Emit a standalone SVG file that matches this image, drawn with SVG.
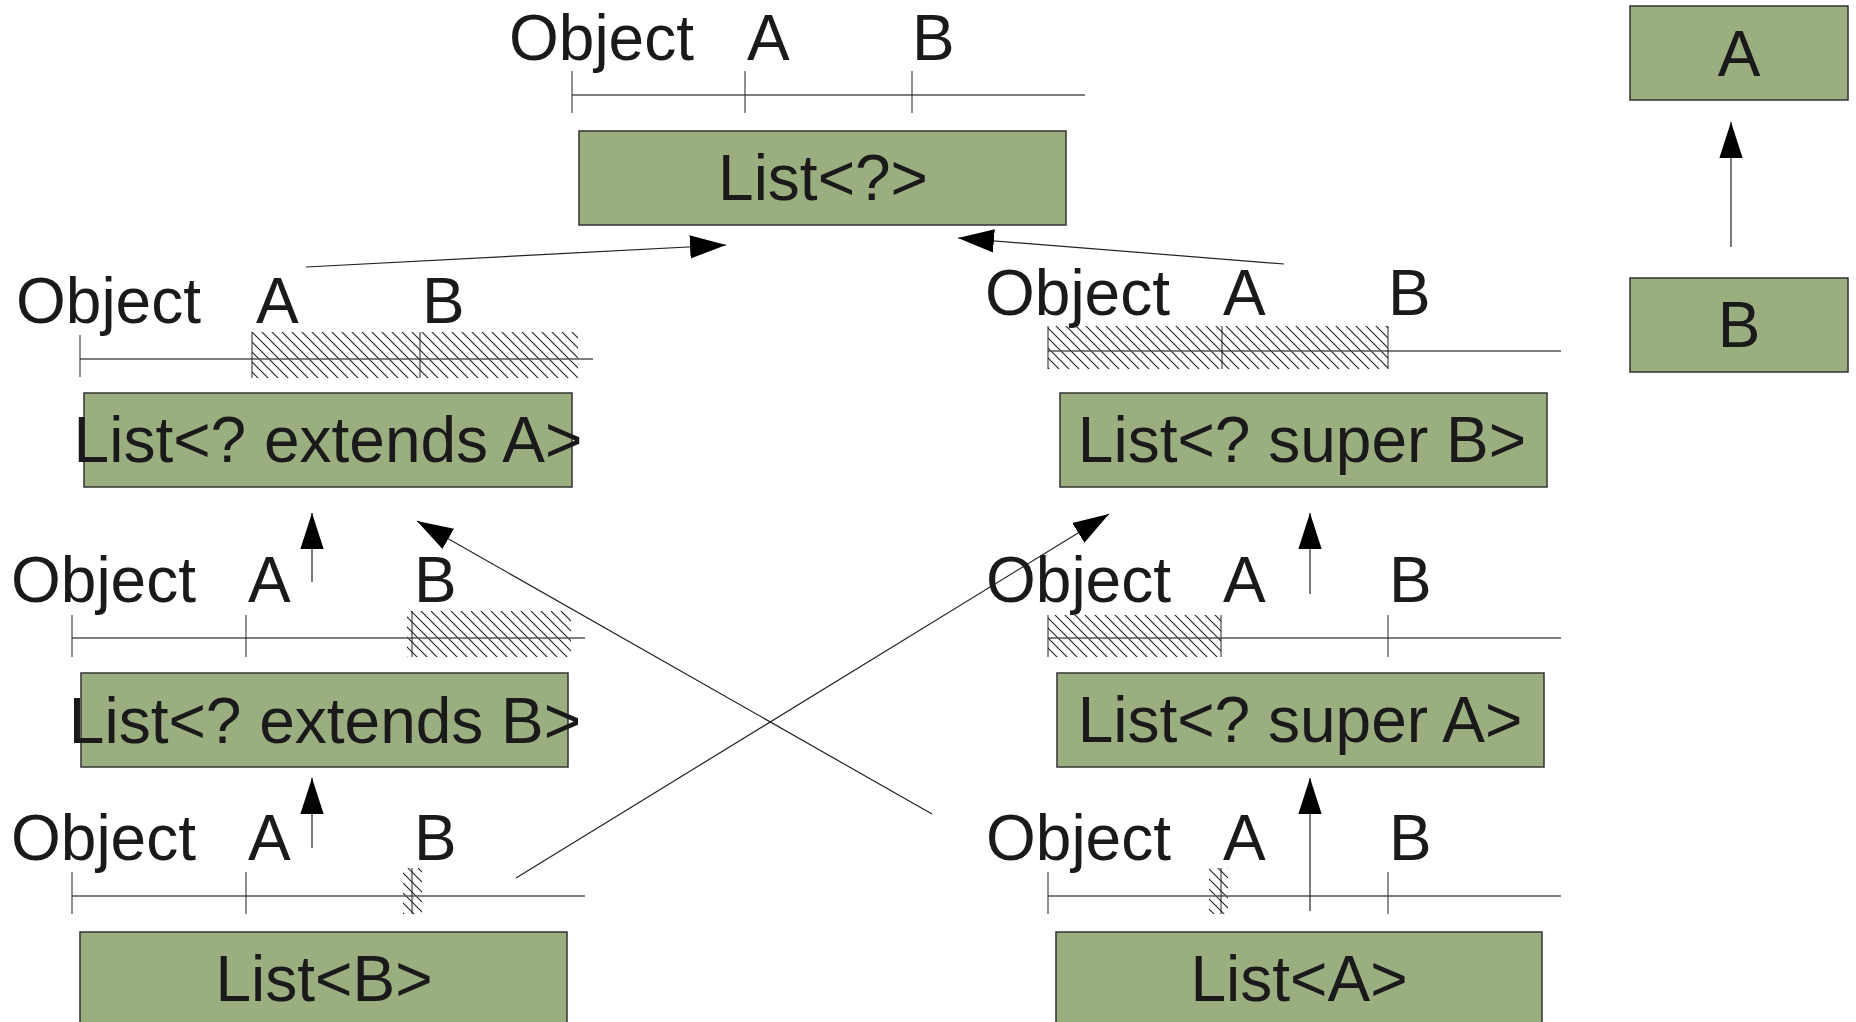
<svg xmlns="http://www.w3.org/2000/svg" width="1856" height="1022" viewBox="0 0 1856 1022">
<style>
.box{fill:#9aae80;stroke:#333;stroke-width:1.5}
.bt{font-family:"Liberation Sans",Arial,sans-serif;font-size:64px;fill:#1a1a1a;text-anchor:middle}
.lb{font-family:"Liberation Sans",Arial,sans-serif;font-size:64px;fill:#1a1a1a}
.ax{stroke:#555;stroke-width:1.5;fill:none}
.tk{stroke:#222;stroke-width:1;fill:none}
.ht{fill:url(#hatch);stroke:none}
.cn{stroke:#222;stroke-width:1.2;fill:none;marker-end:url(#ah)}
</style>
<defs>
<pattern id="hatch" patternUnits="userSpaceOnUse" width="10" height="10">
<path d="M0,0 L10,10 M-2,8 L2,12 M8,-2 L12,2" stroke="#222" stroke-width="1.1"/>
</pattern>
<marker id="ah" markerUnits="userSpaceOnUse" markerWidth="36" markerHeight="24" viewBox="0 0 34 22" refX="34" refY="11" orient="auto">
<path d="M0,0 L34,11 L0,22 z" fill="#000"/>
</marker>
</defs>
<rect width="1856" height="1022" fill="#fff"/>

<g id="scale-top">
<line class="ax" x1="572" y1="95" x2="1085" y2="95"/>
<line class="tk" x1="572" y1="71" x2="572" y2="113"/>
<line class="tk" x1="745" y1="71" x2="745" y2="113"/>
<line class="tk" x1="912" y1="71" x2="912" y2="113"/>
<text class="lb" x="509" y="60">Object</text>
<text class="lb" x="747" y="60">A</text>
<text class="lb" x="912" y="60">B</text>
</g>

<g id="scale-extendsA">
<rect class="ht" x="252" y="332" width="326" height="46"/>
<line class="ax" x1="80" y1="359" x2="593" y2="359"/>
<line class="tk" x1="80" y1="335" x2="80" y2="377"/>
<line class="tk" x1="252" y1="332" x2="252" y2="378"/>
<line class="tk" x1="420" y1="332" x2="420" y2="378"/>
<text class="lb" x="16" y="323">Object</text>
<text class="lb" x="256" y="323">A</text>
<text class="lb" x="422" y="323">B</text>
</g>

<g id="scale-superB">
<rect class="ht" x="1048" y="326" width="340" height="43"/>
<line class="ax" x1="1048" y1="351" x2="1561" y2="351"/>
<line class="tk" x1="1048" y1="326" x2="1048" y2="369"/>
<line class="tk" x1="1222" y1="326" x2="1222" y2="369"/>
<line class="tk" x1="1388" y1="326" x2="1388" y2="369"/>
<text class="lb" x="985" y="315">Object</text>
<text class="lb" x="1223" y="315">A</text>
<text class="lb" x="1388" y="315">B</text>
</g>

<g id="scale-extendsB">
<rect class="ht" x="407" y="611" width="164" height="46"/>
<line class="ax" x1="72" y1="638" x2="585" y2="638"/>
<line class="tk" x1="72" y1="615" x2="72" y2="657"/>
<line class="tk" x1="246" y1="615" x2="246" y2="657"/>
<line class="tk" x1="412" y1="611" x2="412" y2="657"/>
<text class="lb" x="11" y="602">Object</text>
<text class="lb" x="248" y="602">A</text>
<text class="lb" x="414" y="602">B</text>
</g>

<g id="scale-superA">
<rect class="ht" x="1048" y="615" width="173" height="42"/>
<line class="ax" x1="1048" y1="638" x2="1561" y2="638"/>
<line class="tk" x1="1048" y1="615" x2="1048" y2="657"/>
<line class="tk" x1="1221" y1="615" x2="1221" y2="657"/>
<line class="tk" x1="1388" y1="615" x2="1388" y2="657"/>
<text class="lb" x="986" y="602">Object</text>
<text class="lb" x="1223" y="602">A</text>
<text class="lb" x="1389" y="602">B</text>
</g>

<g id="scale-B">
<rect class="ht" x="403" y="868" width="19" height="46"/>
<line class="ax" x1="72" y1="896" x2="585" y2="896"/>
<line class="tk" x1="72" y1="872" x2="72" y2="914"/>
<line class="tk" x1="246" y1="872" x2="246" y2="914"/>
<line class="tk" x1="412" y1="868" x2="412" y2="914"/>
<text class="lb" x="11" y="860">Object</text>
<text class="lb" x="248" y="860">A</text>
<text class="lb" x="414" y="860">B</text>
</g>

<g id="scale-A">
<rect class="ht" x="1209" y="868" width="19" height="46"/>
<line class="ax" x1="1048" y1="896" x2="1561" y2="896"/>
<line class="tk" x1="1048" y1="872" x2="1048" y2="914"/>
<line class="tk" x1="1221" y1="868" x2="1221" y2="914"/>
<line class="tk" x1="1388" y1="872" x2="1388" y2="914"/>
<text class="lb" x="986" y="860">Object</text>
<text class="lb" x="1223" y="860">A</text>
<text class="lb" x="1389" y="860">B</text>
</g>

<g id="node-list-any">
<rect class="box" x="579" y="131" width="487" height="94"/>
<text class="bt" x="823" y="200">List&lt;?&gt;</text>
</g>
<g id="node-list-extends-A">
<rect class="box" x="84" y="393" width="488" height="94"/>
<text class="bt" x="328" y="462">List&lt;? extends A&gt;</text>
</g>
<g id="node-list-super-B">
<rect class="box" x="1060" y="393" width="487" height="94"/>
<text class="bt" x="1302" y="462">List&lt;? super B&gt;</text>
</g>
<g id="node-list-extends-B">
<rect class="box" x="81" y="673" width="487" height="94"/>
<text class="bt" x="325" y="743">List&lt;? extends B&gt;</text>
</g>
<g id="node-list-super-A">
<rect class="box" x="1057" y="673" width="487" height="94"/>
<text class="bt" x="1300" y="742">List&lt;? super A&gt;</text>
</g>
<g id="node-list-B">
<rect class="box" x="80" y="932" width="487" height="94"/>
<text class="bt" x="324" y="1001">List&lt;B&gt;</text>
</g>
<g id="node-list-A">
<rect class="box" x="1056" y="932" width="486" height="94"/>
<text class="bt" x="1299" y="1001">List&lt;A&gt;</text>
</g>
<g id="node-A">
<rect class="box" x="1630" y="6" width="218" height="94"/>
<text class="bt" x="1739" y="76">A</text>
</g>
<g id="node-B">
<rect class="box" x="1630" y="278" width="218" height="94"/>
<text class="bt" x="1739" y="347">B</text>
</g>

<g id="connectors">
<line class="cn" x1="306" y1="267" x2="726" y2="245"/>
<line class="cn" x1="1284" y1="264" x2="958" y2="238"/>
<line class="cn" x1="1731" y1="247" x2="1731" y2="122"/>
<line class="cn" x1="312" y1="582" x2="312" y2="513"/>
<line class="cn" x1="1310" y1="594" x2="1310" y2="513"/>
<line class="cn" x1="932" y1="814" x2="417" y2="521"/>
<line class="cn" x1="516" y1="878" x2="1109" y2="514"/>
<line class="cn" x1="312" y1="848" x2="312" y2="778"/>
<line class="cn" x1="1310" y1="911" x2="1310" y2="778"/>
</g>
</svg>
